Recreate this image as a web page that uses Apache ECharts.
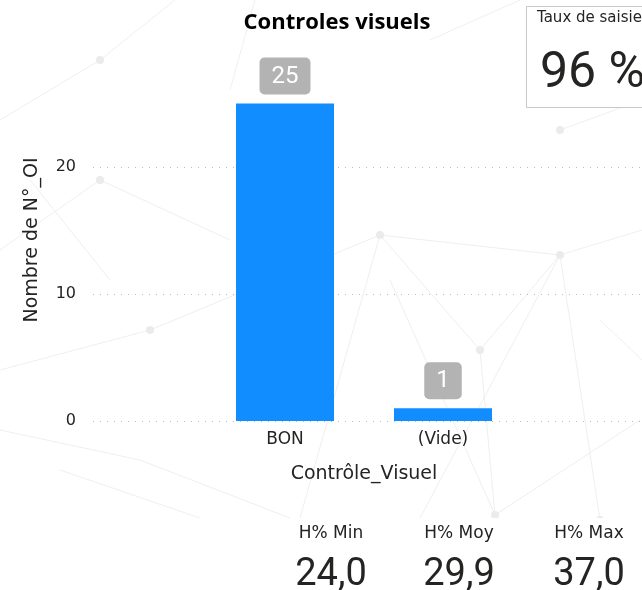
<!DOCTYPE html>
<html>
<head>
<meta charset="utf-8">
<script src="https://cdn.jsdelivr.net/npm/echarts@6/dist/echarts.min.js"></script>
<style>
html,body{margin:0;padding:0;background:#fff;}
#c{width:642px;height:590px;}
</style>
</head>
<body>
<div id="c"></div>
<script>
var categories = ['BON', '(Vide)'];
var counts = [25, 1];
var yTicks = [0, 10, 20];
var cardTitle = 'Taux de saisie';
var cardValue = '96 %';
var kpiLabels = ['H% Min', 'H% Moy', 'H% Max'];
var kpiValues = ['24,0', '29,9', '37,0'];

var FONT = '"DejaVu Sans", sans-serif';
var NUM = 'Roboto, "DejaVu Sans", sans-serif';
var chart = echarts.init(document.getElementById('c'), null, {renderer: 'canvas'});

// decorative faint network background (not data)
var bgLines = [
  [[0,120],[100,60]],[[100,60],[175,0]],[[0,370],[150,330]],[[150,330],[380,235]],
  [[380,235],[560,255]],[[560,255],[642,230]],[[380,235],[480,350]],[[480,350],[560,255]],
  [[480,350],[495,515]],[[560,255],[600,520]],[[390,280],[495,515]],[[60,470],[200,518]],
  [[0,430],[140,460]],[[140,460],[290,518]],[[495,515],[640,420]],[[600,320],[642,360]],
  [[255,0],[230,90]],[[430,40],[520,0]],[[560,130],[642,100]],[[30,180],[110,280]],
  [[380,235],[300,518]],[[560,255],[420,518]],[[0,250],[100,180]],[[100,180],[230,240]]
];
var graphics = [];
bgLines.forEach(function(l){
  graphics.push({type:'line', silent:true, z:-10, shape:{x1:l[0][0],y1:l[0][1],x2:l[1][0],y2:l[1][1]}, style:{stroke:'#efeff1', lineWidth:1}});
});
[[380,235],[480,350],[560,255],[495,515],[150,330],[100,60],[600,520],[560,130],[100,180]].forEach(function(p){
  graphics.push({type:'circle', silent:true, z:-9, shape:{cx:p[0],cy:p[1],r:4}, style:{fill:'#ebebed'}});
});
graphics.push({type:'rect', silent:true, z:-5, shape:{x:0,y:518,width:642,height:72}, style:{fill:'#ffffff'}});
// y axis title
graphics.push({type:'text', x:32, y:240, rotation:Math.PI/2, style:{x:0, y:0, text:'Nombre de N°_OI', font:'19px '+FONT, fill:'#252423', textAlign:'center', textVerticalAlign:'middle'}, z:6});
// card
graphics.push({type:'rect', shape:{x:526.5,y:6.5,width:130,height:101}, style:{fill:'#ffffff', stroke:'#c8c8c8', lineWidth:1}, z:5});
graphics.push({type:'text', style:{x:537, y:18, text:cardTitle, font:'15px '+FONT, fill:'#252423', textVerticalAlign:'middle'}, z:6});
graphics.push({type:'text', style:{x:540, y:74, text:cardValue, font:'50px '+NUM, fill:'#252423', textVerticalAlign:'middle'}, z:6});
// KPIs
var kx = [331, 459, 589];
kpiLabels.forEach(function(t,i){
  graphics.push({type:'text', style:{x:kx[i], y:534, text:t, font:'17px '+FONT, fill:'#252423', textAlign:'center', textVerticalAlign:'middle'}, z:6});
  graphics.push({type:'text', style:{x:kx[i], y:575, text:kpiValues[i], font:'38px '+NUM, fill:'#252423', textAlign:'center', textVerticalAlign:'middle'}, z:6});
});

chart.setOption({
  backgroundColor: '#ffffff',
  animation: false,
  title: {
    text: 'Controles visuels', left: 332, textAlign: 'center', top: 7,
    textStyle: {fontFamily: '"Open Sans", sans-serif', fontSize: 22, fontWeight: 'bold', color: '#000'}
  },
  graphic: graphics,
  grid: [
    {left: 93, right: 0, top: 167, bottom: 169},
    {left: 206, width: 316, top: 40, bottom: 169}
  ],
  xAxis: [
    {gridIndex: 0, type: 'value', show: false, min: 0, max: 1},
    {gridIndex: 1, type: 'category', data: categories,
     axisLine: {show: false}, axisTick: {show: false},
     axisLabel: {fontFamily: FONT, fontSize: 17, color: '#252423', margin: 10},
     name: 'Contrôle_Visuel', nameLocation: 'middle', nameGap: 44,
     nameTextStyle: {fontFamily: FONT, fontSize: 19, color: '#252423'}}
  ],
  yAxis: [
    {gridIndex: 0, type: 'value', min: yTicks[0], max: yTicks[yTicks.length-1], interval: 10,
     axisLine: {show: false}, axisTick: {show: false},
     axisLabel: {fontFamily: FONT, fontSize: 16, color: '#252423', margin: 17},
     splitLine: {show: true, lineStyle: {color: '#bdbdbd', type: [1, 6], width: 1}}},
    {gridIndex: 1, type: 'value', min: 0, max: 30, show: false, splitLine: {show: false}}
  ],
  series: [{
    type: 'bar', xAxisIndex: 1, yAxisIndex: 1, data: counts, barWidth: 98,
    itemStyle: {color: '#118DFF'},
    label: {
      show: true, position: 'top', distance: 9,
      fontFamily: NUM, fontSize: 24, color: '#ffffff',
      backgroundColor: '#b3b3b3', borderRadius: 5,
      padding: [7, 12, 6, 12]
    }
  }]
});
</script>
</body>
</html>
